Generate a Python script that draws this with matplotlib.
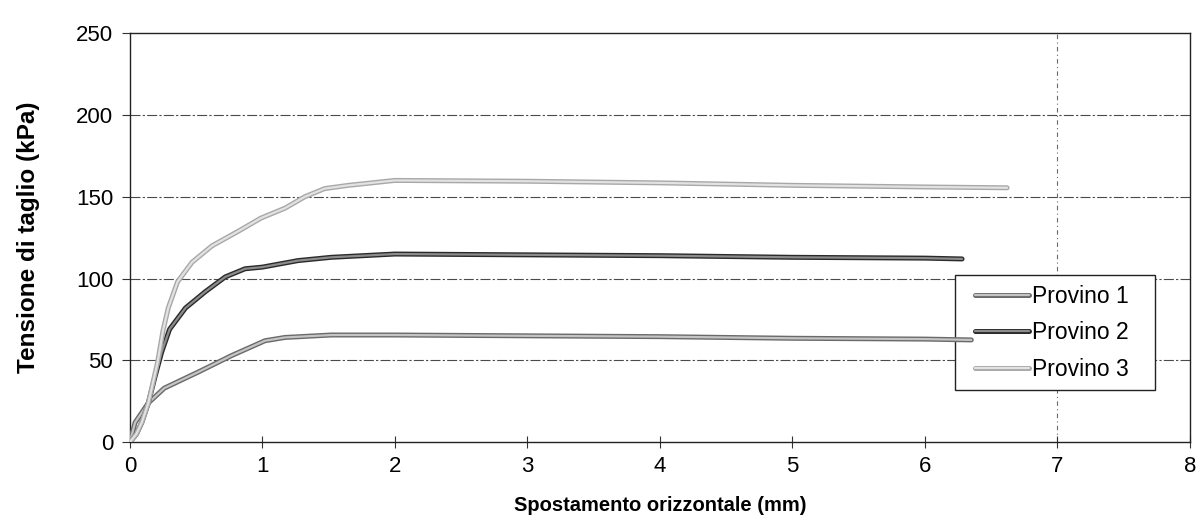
import matplotlib
matplotlib.use("Agg")
import matplotlib.pyplot as plt
import matplotlib.patheffects as pe
from matplotlib.patches import Rectangle

plt.rcParams["font.family"] = ["Liberation Sans", "DejaVu Sans"]

# Spostamento orizzontale (mm) / Tensione di taglio (kPa)
p1_x = [0, 0.04, 0.09, 0.14, 0.26, 0.52, 0.77, 1.02, 1.17, 1.52, 2.0, 3.0, 4.0, 5.0, 6.0, 6.35]
p1_y = [0, 12, 18, 24, 33, 43, 53, 62, 64, 65.5, 65.5, 65, 64.5, 63.5, 63, 62.5]

p2_x = [0, 0.05, 0.09, 0.14, 0.19, 0.24, 0.30, 0.42, 0.57, 0.72, 0.87, 1.0, 1.27, 1.52,
        2.0, 3.0, 4.0, 5.0, 6.0, 6.28]
p2_y = [0, 5, 12, 24, 40, 55, 69, 82, 92, 101, 106, 107, 111, 113,
        115, 114.5, 114, 113, 112.5, 112]

p3_x = [0, 0.05, 0.09, 0.14, 0.21, 0.25, 0.29, 0.36, 0.47, 0.62, 0.82, 0.99, 1.17, 1.32,
        1.47, 1.65, 2.0, 3.0, 4.0, 5.0, 6.0, 6.62]
p3_y = [0, 5, 12, 24, 49, 68, 82, 98, 110, 120, 129, 137, 143, 150,
        155, 157, 160, 159.5, 158.5, 157, 156, 155.5]

labels = ["Provino 1", "Provino 2", "Provino 3"]
y_ticks = [0, 50, 100, 150, 200, 250]
x_ticks = [0, 1, 2, 3, 4, 5, 6, 7, 8]

fig = plt.figure(figsize=(12.02, 5.27), dpi=100)
ax = fig.add_axes([0.108, 0.161, 0.882, 0.776])

# linee "doppie" come nella stampa: bordo scuro + interno chiaro
styles = [
    ("#6a6a6a", "#c4c4c4"),
    ("#2a2a2a", "#8c8c8c"),
    ("#a8a8a8", "#e2e2e2"),
]
for (xs, ys), lab, (edge, inner) in zip([(p1_x, p1_y), (p2_x, p2_y), (p3_x, p3_y)], labels, styles):
    ax.plot(xs, ys, color=inner, linewidth=1.6, label=lab, zorder=4,
            solid_capstyle="round",
            path_effects=[pe.Stroke(linewidth=3.6, foreground=edge), pe.Normal()])

# griglia tratto-punto
for yv in y_ticks[1:-1]:
    ax.axhline(yv, color="#4a4a4a", linewidth=0.8, linestyle=(0, (9, 2, 2, 2)), zorder=1)
ax.axvline(7, color="#6a6a6a", linewidth=0.8, linestyle=(0, (4, 3, 1, 3)), zorder=1)

ax.set_xlim(0, 8)
ax.set_ylim(0, 250)
ax.set_xticks(x_ticks)
ax.set_yticks(y_ticks)
ax.tick_params(axis="x", direction="inout", length=8, labelsize=16, pad=6, color="#333333")
ax.tick_params(axis="y", direction="out", length=6, labelsize=16, pad=6, color="#333333")
for s in ax.spines.values():
    s.set_linewidth(1.0)
    s.set_color("#222222")

ax.set_xlabel("Spostamento orizzontale (mm)", fontsize=14.5, fontweight="bold", labelpad=14)
ax.set_ylabel("Tensione di taglio (kPa)", fontsize=17.5, fontweight="bold", labelpad=26)

# riquadro della legenda (sotto la fine della curva 1, come nell'originale)
ax.add_patch(Rectangle((0.778, 0.127), 0.189, 0.281, transform=ax.transAxes,
                       facecolor="white", edgecolor="#222222", linewidth=1.0,
                       zorder=3, clip_on=False))
leg = ax.legend(loc="upper left", bbox_to_anchor=(0.797, 0.385), fontsize=16.5,
                frameon=False, handlelength=2.35, handletextpad=0.15,
                labelspacing=0.6, borderpad=0, borderaxespad=0)
leg.set_zorder(3.5)

fig.savefig("out.png", dpi=100)
